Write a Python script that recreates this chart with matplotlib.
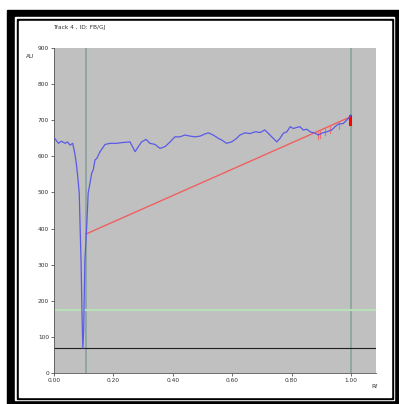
import matplotlib
matplotlib.use("Agg")
import matplotlib.pyplot as plt
from matplotlib.patches import Rectangle

# Densitogram trace (Rf, AU)
rf = [0.002, 0.015, 0.025, 0.037, 0.045, 0.054, 0.063, 0.07, 0.075, 0.08, 0.085,
      0.088, 0.091, 0.094, 0.097, 0.1, 0.101, 0.104, 0.11, 0.115, 0.123, 0.127,
      0.132, 0.138, 0.144, 0.155, 0.172, 0.189, 0.211, 0.228, 0.256, 0.264, 0.273,
      0.284, 0.295, 0.31, 0.323, 0.34, 0.357, 0.374, 0.391, 0.407, 0.424, 0.441,
      0.458, 0.475, 0.492, 0.508, 0.52, 0.536, 0.553, 0.565, 0.581, 0.598, 0.615,
      0.626, 0.643, 0.66, 0.677, 0.694, 0.71, 0.727, 0.738, 0.75, 0.761, 0.772,
      0.784, 0.795, 0.806, 0.817, 0.828, 0.839, 0.851, 0.862, 0.879, 0.89, 0.901,
      0.918, 0.935, 0.946, 0.957, 0.974, 0.991, 0.999]
au = [650, 636, 642, 636, 640, 631, 636, 608, 581, 543, 498,
      400, 313, 174, 69, 120, 174, 313, 404, 498, 534, 554,
      562, 590, 594, 613, 633, 636, 636, 638, 640, 627, 613,
      627, 640, 647, 636, 633, 622, 627, 640, 654, 654, 659,
      656, 654, 656, 662, 665, 659, 650, 645, 636, 640, 650,
      659, 665, 663, 668, 666, 673, 659, 650, 640, 650, 664,
      668, 682, 677, 680, 682, 673, 675, 668, 664, 659, 664,
      668, 673, 682, 689, 691, 705, 714]

# baseline / reference levels
base_rf = [0.108, 0.997]
base_au = [385, 709]
green_level = 175
black_level = 70
front_lines = [0.108, 1.0]

# small peak marks on the baseline
mark_rf = [0.890, 0.895, 0.912, 0.929, 0.960]
mark_len = [22, 22, 20, 20, 20]

W, H = 399, 404
fig = plt.figure(figsize=(W / 100, H / 100), dpi=100)


def px_rect(x0, y0, x1, y1, color):
    fig.patches.append(Rectangle((x0 / W, 1 - y1 / H), (x1 - x0) / W, (y1 - y0) / H,
                                 transform=fig.transFigure, color=color, zorder=-5))


# double black frame
px_rect(7, 10, 399, 404, "black")
px_rect(15, 17, 394, 400, "white")
px_rect(17, 19, 393, 399, "black")
px_rect(19, 21, 391, 397, "white")

ax = fig.add_axes([54 / W, 1 - 373 / H, (376 - 54) / W, (373 - 48) / H])
ax.set_zorder(2)
ax.set_facecolor("#c0c0c0")
ax.set_xlim(0, 1.084)
ax.set_ylim(0, 900)

for x in front_lines:
    ax.axvline(x, color="#8fa8a4", lw=1.4, zorder=1)
ax.axhline(green_level, color="#b8e0b8", lw=1.6, zorder=1)
ax.axhline(black_level, color="#202020", lw=0.8, zorder=1)

ax.plot(base_rf, base_au, color="#f06060", lw=1.0, zorder=2)
slope = (base_au[1] - base_au[0]) / (base_rf[1] - base_rf[0])
for x, ln in zip(mark_rf, mark_len):
    yb = base_au[0] + slope * (x - base_rf[0])
    ax.plot([x, x], [yb, yb - ln], color="#f07070", lw=0.8, zorder=2)
ax.plot([0.996, 0.996], [690, 712], color="red", lw=2.2, zorder=3)

ax.plot(rf, au, color="#5a5ae6", lw=0.9, zorder=4)

ax.set_xticks([0, 0.2, 0.4, 0.6, 0.8, 1.0])
ax.set_xticklabels(["0.00", "0.20", "0.40", "0.60", "0.80", "1.00"])
ax.set_yticks(range(0, 901, 100))
ax.tick_params(labelsize=4.2, length=2, width=0.5, pad=1.5, colors="#333333")
for side in ["top", "right"]:
    ax.spines[side].set_visible(False)
for side in ["left", "bottom"]:
    ax.spines[side].set_color("#555555")
    ax.spines[side].set_linewidth(0.6)

fig.text(53 / W, 1 - 28 / H, "Track 4 , ID: FB/GJ", fontsize=4.2, va="center", color="#333333")
fig.text(26 / W, 1 - 56 / H, "AU", fontsize=4.2, va="center", color="#333333")
fig.text(371 / W, 1 - 386 / H, "Rf", fontsize=4.2, va="center", color="#333333")

fig.savefig("out.png", dpi=100)
